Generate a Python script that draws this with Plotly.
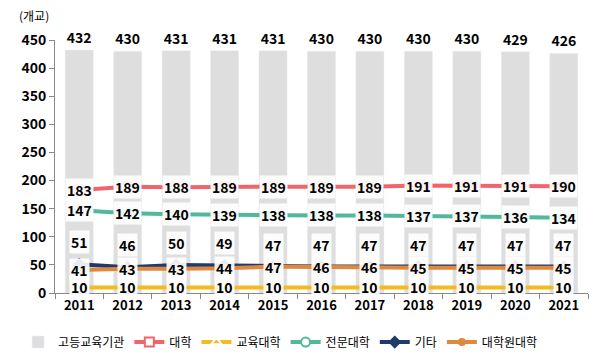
import plotly.graph_objects as go

years = ["2011", "2012", "2013", "2014", "2015", "2016", "2017", "2018", "2019", "2020", "2021"]
total = [432, 430, 431, 431, 431, 430, 430, 430, 430, 429, 426]
univ = [183, 189, 188, 189, 189, 189, 189, 191, 191, 191, 190]
edu_univ = [10, 10, 10, 10, 10, 10, 10, 10, 10, 10, 10]
college = [147, 142, 140, 139, 138, 138, 138, 137, 137, 136, 134]
other = [51, 46, 50, 49, 47, 47, 47, 47, 47, 47, 47]
grad_univ = [41, 43, 43, 44, 47, 46, 46, 45, 45, 45, 45]

FONT = "Noto Sans CJK KR"

fig = go.Figure()
fig.add_trace(go.Bar(
    x=years, y=total, name="고등교육기관", marker_color="#DEDEDE",
    width=0.58, text=total, textposition="outside", cliponaxis=False,
    textfont=dict(family=FONT, size=14, color="black", weight="bold"),
))

series = [
    ("대학", univ, "#F0656C", "square", "white", 9, 0),
    ("교육대학", edu_univ, "#F5B922", "triangle-up-open", "white", 9, 0),
    ("전문대학", college, "#52B89B", "circle", "white", 9, 0),
    ("기타", other, "#1F3A6B", "diamond", "#1F3A6B", 8, 22),
    ("대학원대학", grad_univ, "#E0883E", "circle", "#E0883E", 6, 0),
]

annotations = []
for name, vals, color, sym, fill, msize, shift in series:
    fig.add_trace(go.Scatter(
        x=years, y=vals, name=name, mode="lines+markers",
        line=dict(color=color, width=4),
        marker=dict(symbol=sym, size=msize, color=fill, line=dict(color=color, width=2)),
    ))
    # category axis: annotation x is the category index
    for i, yv in enumerate(vals):
        annotations.append(dict(
            x=i, y=yv, text=f"<b>{yv}</b>", showarrow=False, yshift=shift,
            font=dict(family=FONT, size=14, color="black"),
            bgcolor="rgba(255,255,255,0.9)", borderpad=1,
        ))

annotations.append(dict(
    x=-0.04, y=1.0, xref="paper", yref="paper", xanchor="center", yanchor="bottom",
    yshift=14, text="(개교)", showarrow=False,
    font=dict(family=FONT, size=12, color="black"),
))

fig.update_layout(
    width=603, height=362,
    margin=dict(l=55, r=15, t=40, b=69, autoexpand=False),
    paper_bgcolor="white", plot_bgcolor="white",
    font=dict(family=FONT, color="black"),
    annotations=annotations,
    showlegend=True,
    legend=dict(orientation="h", xref="container", yref="container",
                x=0.03, xanchor="left", y=0.055, yanchor="middle",
                font=dict(family=FONT, size=12), itemwidth=30),
    bargap=0.42,
)
fig.update_xaxes(
    type="category", range=[-0.5, len(years) - 0.5],
    showline=True, linecolor="#888888", linewidth=1,
    ticks="outside", ticklen=5, tickcolor="#888888", tickson="boundaries",
    tickfont=dict(family=FONT, size=13, weight="bold"),
    showgrid=False,
)
fig.update_yaxes(
    range=[0, 450], dtick=50, showline=True, linecolor="#888888", linewidth=1,
    ticks="outside", ticklen=5, tickcolor="#888888",
    tickfont=dict(family=FONT, size=14, weight="bold"),
    showgrid=False, zeroline=False,
)

fig.write_html("out.html", config={"displayModeBar": False},
               post_script="document.body.style.margin='0';")
